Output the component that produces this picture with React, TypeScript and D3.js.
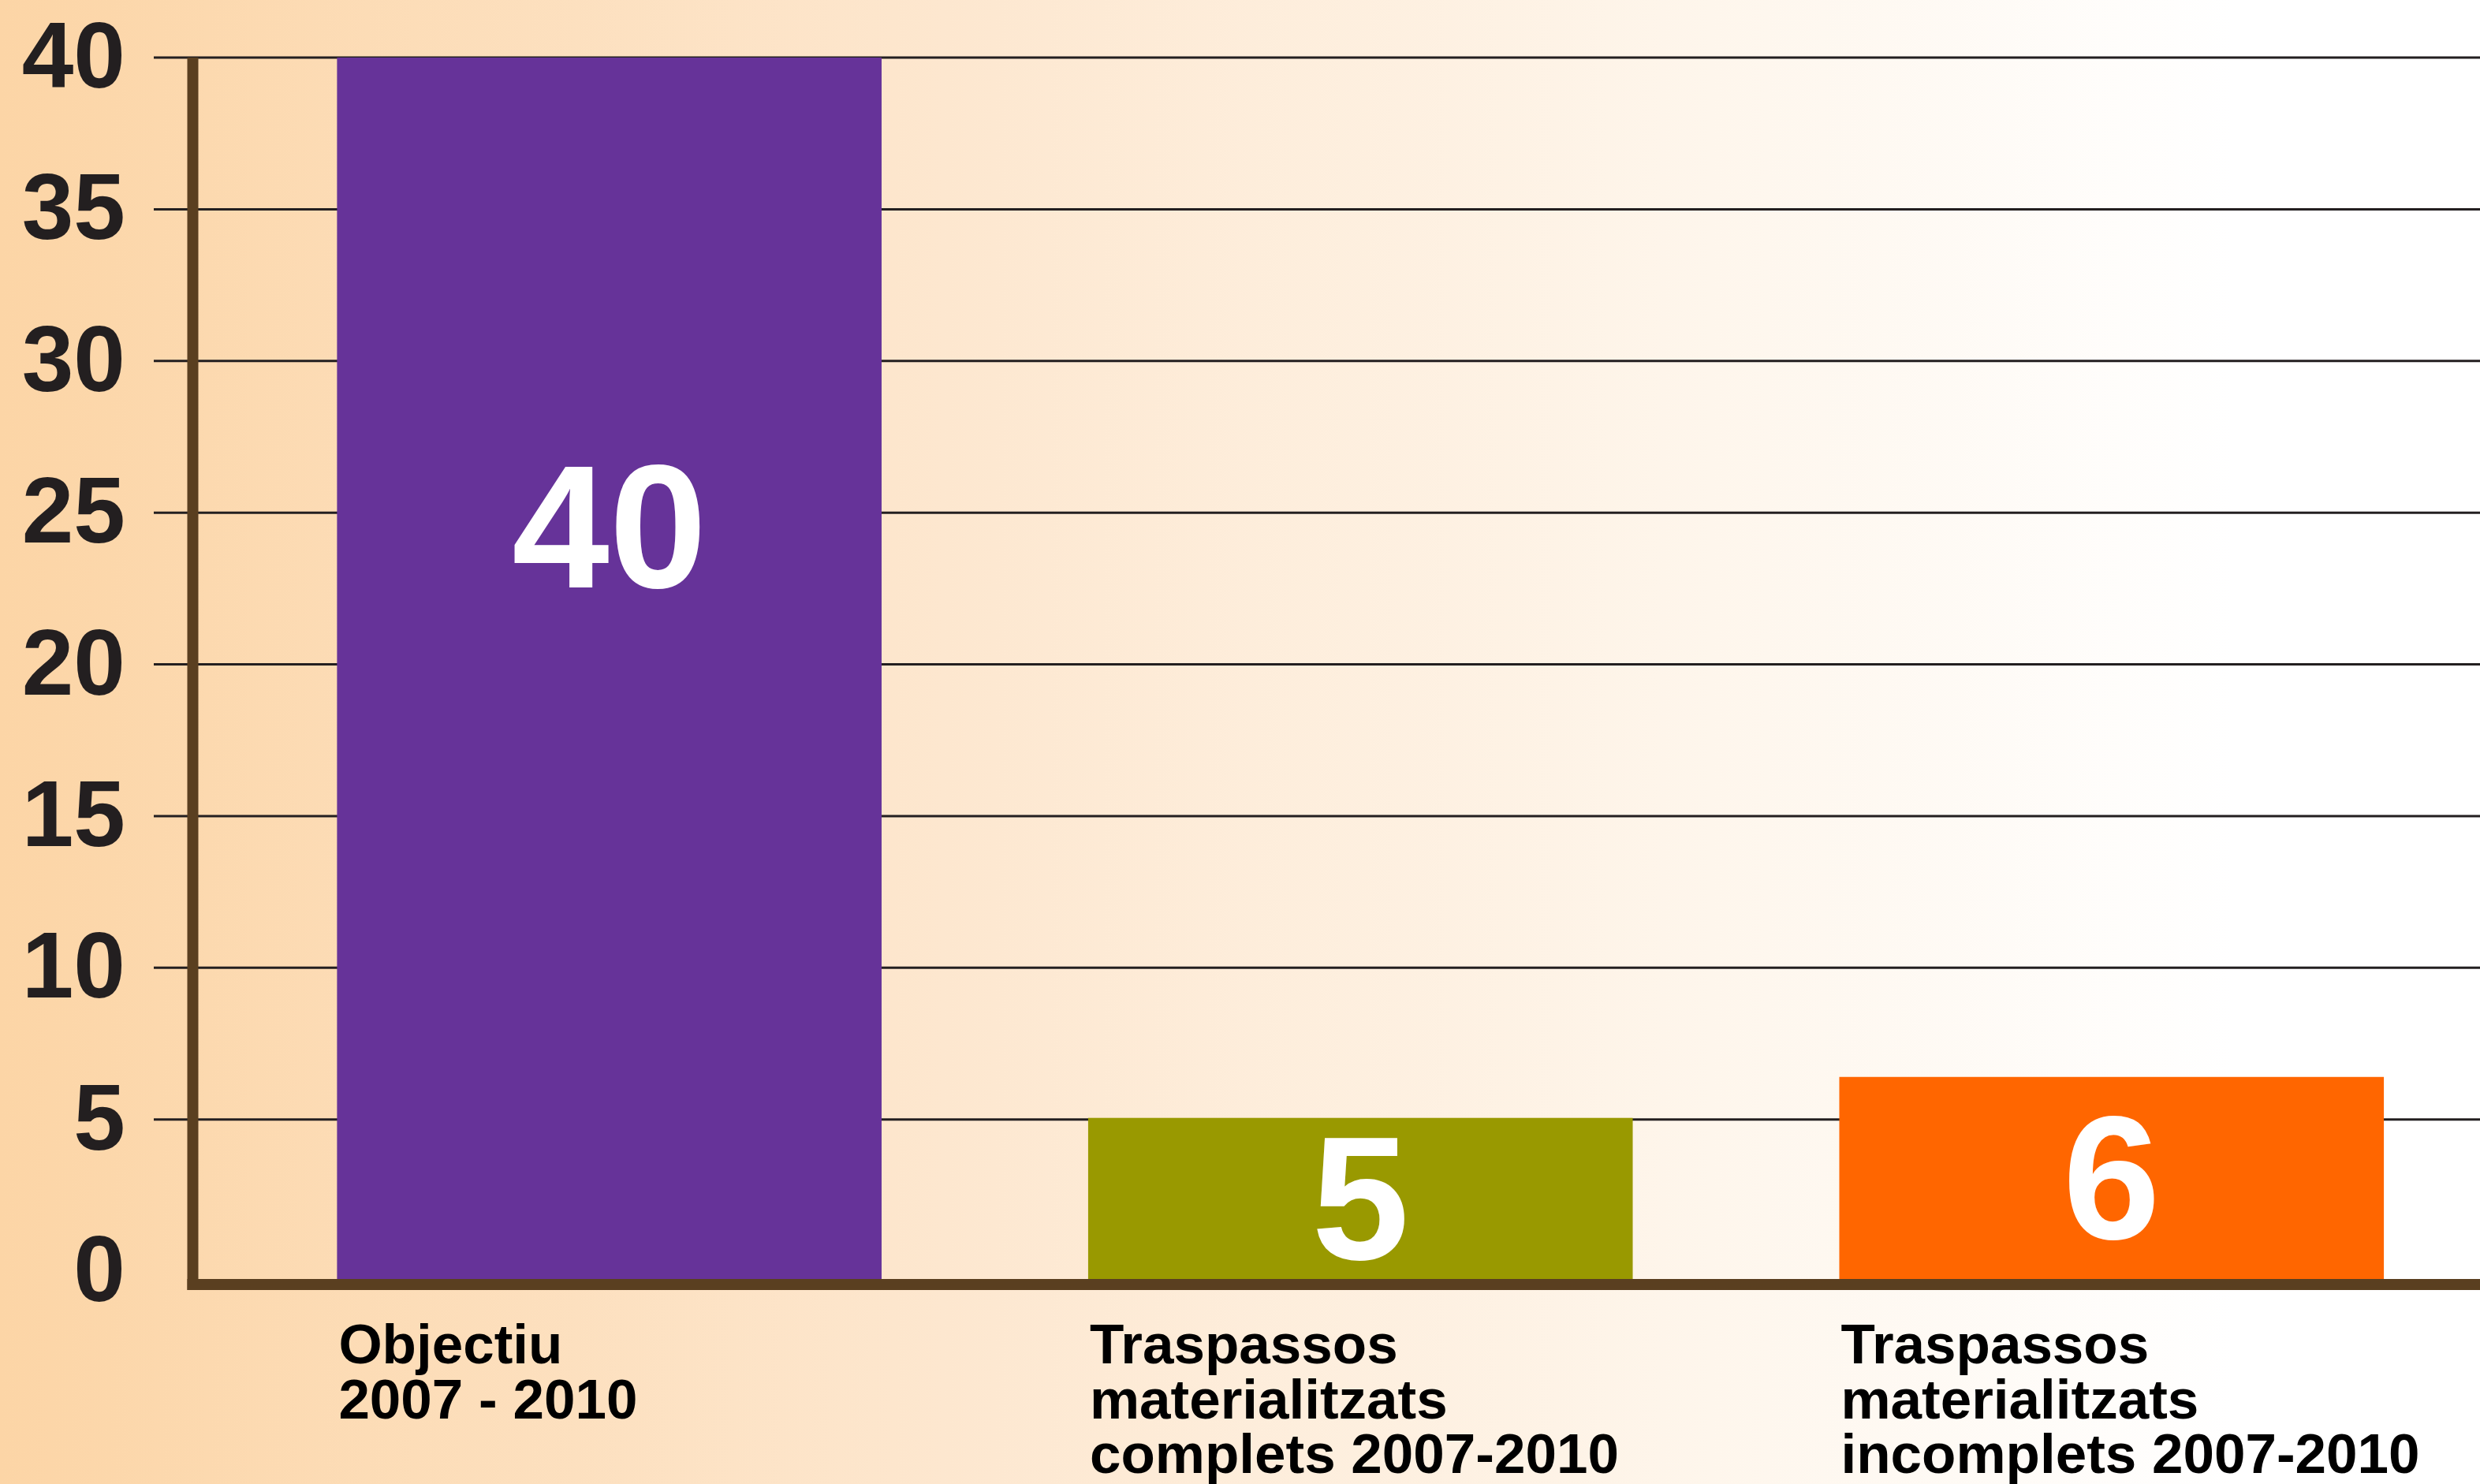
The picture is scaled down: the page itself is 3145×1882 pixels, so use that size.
import React, { useEffect } from 'react';
import * as d3 from 'd3';

// chart data
const categories = ['objectiu', 'complets', 'incomplets'];
const categoryLines = [
  ['Objectiu', '2007 - 2010'],
  ['Traspassos', 'materialitzats', 'complets 2007-2010'],
  ['Traspassos', 'materialitzats', 'incomplets 2007-2010'],
];
const values = [40, 5.05, 6.4];
const barColors = ['#663399', '#999900', '#ff6600'];
const yTicks = [0, 5, 10, 15, 20, 25, 30, 35, 40];

const W = 3145;
const H = 1882;

const App = () => {
  useEffect(() => {
    document.body.style.margin = '0';
  }, []);

  const axisX = 244.5;

  const y = d3.scaleLinear().domain([0, 40]).range([1612, 73]);

  const x = d3.scaleBand()
    .domain(categories)
    .range([axisX, W])
    .paddingInner(0.275)
    .paddingOuter(0.16)
    .align(0.6);

  const baseTop = y(0) + 10; // top edge of the thick x axis line
  const fmt = d3.format('.0f');
  const font = '"Liberation Sans", Arial, Helvetica, sans-serif';

  return (
    <svg width={W} height={H} style={{ display: 'block' }}>
      <defs>
        <linearGradient id="bg" x1="0" y1="0" x2="1" y2="0">
          <stop offset="0" stopColor="#fcd5a6" />
          <stop offset="0.38" stopColor="#fde7cf" />
          <stop offset="0.69" stopColor="#fef6ec" />
          <stop offset="0.9" stopColor="#ffffff" />
        </linearGradient>
      </defs>
      <rect x={0} y={0} width={W} height={H} fill="url(#bg)" />

      {/* gridlines */}
      {yTicks.filter(t => t > 0).map(t => (
        <line key={t} x1={195} x2={W} y1={y(t)} y2={y(t)} stroke="#231f20" strokeWidth={3} />
      ))}

      {/* tick labels */}
      {yTicks.map(t => (
        <text key={t} x={159} y={y(t) - 3} textAnchor="end" dominantBaseline="central"
          fontFamily={font} fontWeight="bold" fontSize={118} fill="#231f20">{t}</text>
      ))}

      {/* bars */}
      {categories.map((c, i) => (
        <rect key={c} x={x(c)} y={y(values[i])} width={x.bandwidth()}
          height={baseTop - y(values[i])} fill={barColors[i]} />
      ))}

      {/* value labels */}
      {categories.map((c, i) => {
        const top = y(values[i]);
        const ly = Math.min((top + baseTop) / 2, top + 595);
        return (
          <text key={c} x={(x(c) ?? 0) + x.bandwidth() / 2} y={ly} textAnchor="middle"
            dominantBaseline="central" fontFamily={font} fontWeight="bold" fontSize={222} fill="#ffffff">
            {fmt(values[i])}
          </text>
        );
      })}

      {/* axes */}
      <line x1={axisX} x2={axisX} y1={73} y2={baseTop + 14} stroke="#5a3f20" strokeWidth={14} />
      <line x1={axisX - 7} x2={W} y1={baseTop + 7} y2={baseTop + 7} stroke="#5a3f20" strokeWidth={14} />

      {/* category labels, one text per line */}
      {categories.map((c, i) =>
        categoryLines[i].map((line, j) => (
          <text key={c + j} x={(x(c) ?? 0) + 2} y={1729 + j * 69.5} fontFamily={font}
            fontWeight="bold" fontSize={71} fill="#000000">{line}</text>
        ))
      )}
    </svg>
  );
};

export default App;
